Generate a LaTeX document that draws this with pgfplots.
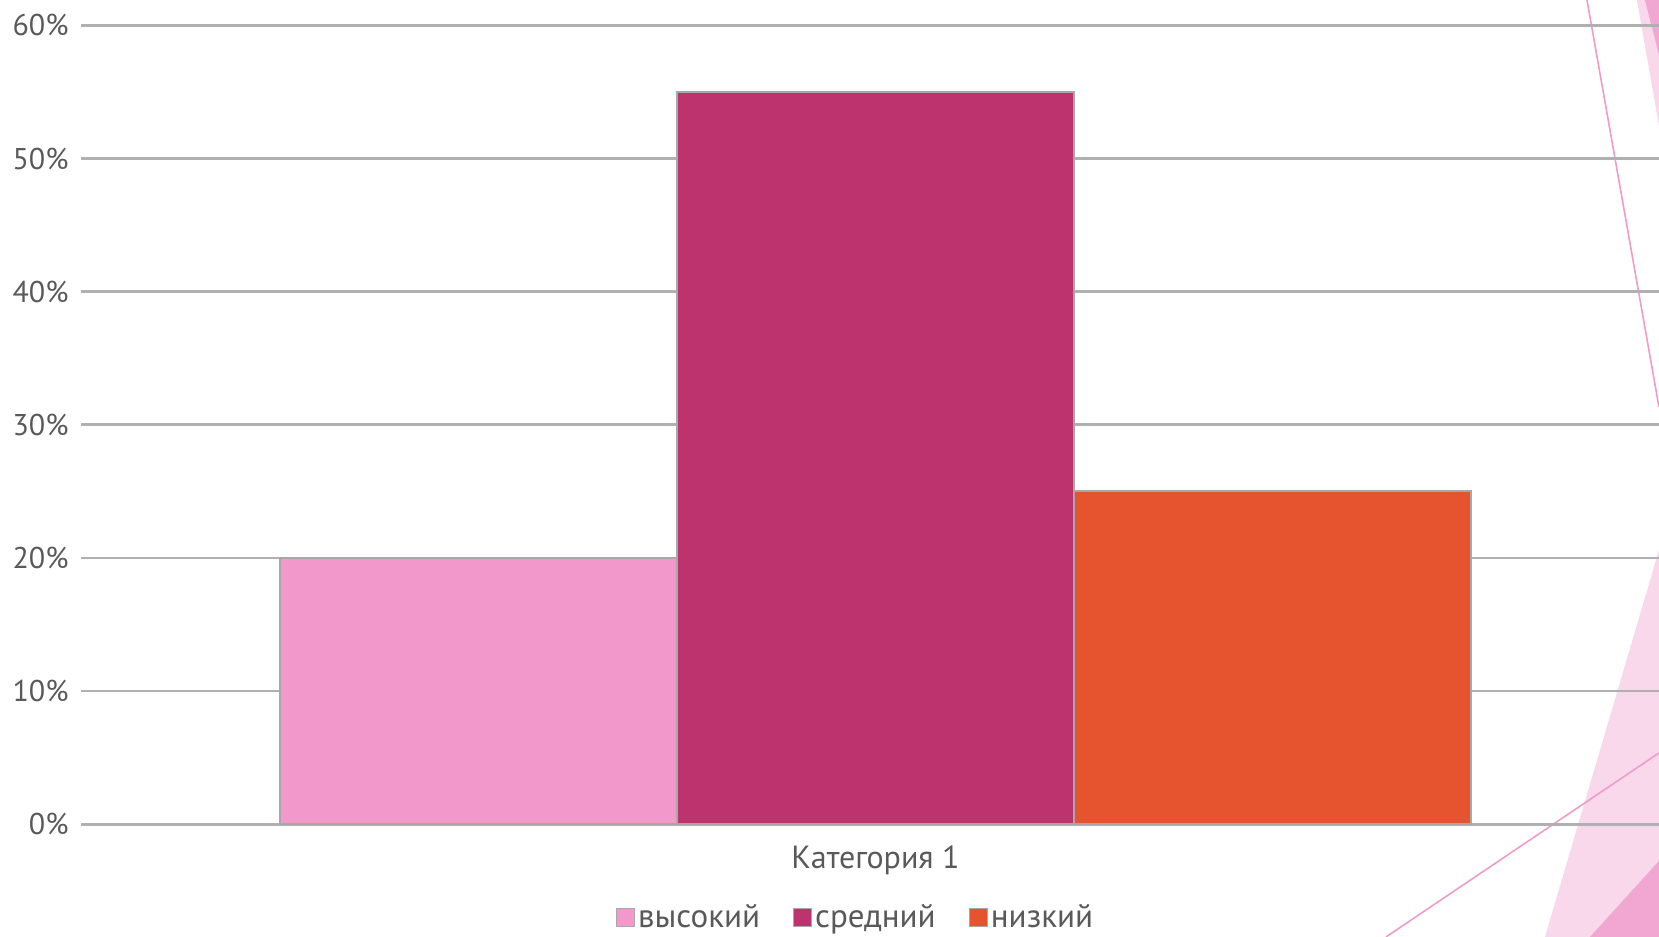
\documentclass[border=0pt]{standalone}
\usepackage{pgfplots}
\pgfplotsset{compat=1.18}
\usepackage{fontspec}
\setmainfont{PT Sans}
\definecolor{cpink}{HTML}{F398CB}
\definecolor{cmag}{HTML}{BD336E}
\definecolor{corange}{HTML}{E5542F}
\definecolor{ctext}{HTML}{595959}
\definecolor{cgrid}{HTML}{B0B0B0}
\definecolor{cbord}{HTML}{A8A8A8}
\definecolor{dlight}{HTML}{F8D8EA}
\definecolor{ddark}{HTML}{F2A6D2}
\definecolor{dline}{HTML}{F29AC9}
\begin{document}
\begin{tikzpicture}
\path[use as bounding box, clip] (-40.75bp,-56.4bp) rectangle (788.75bp,412.1bp);
% background slide decoration
\begin{scope}[shift={(-40.75bp,412.1bp)},x=0.5bp,y=-0.5bp]
\fill[dlight] (1637,0) -- (1659,0) -- (1659,126) -- cycle;
\fill[ddark] (1645,0) -- (1659,0) -- (1659,55) -- cycle;
\fill[dlight] (1659,550) -- (1545,937) -- (1659,937) -- cycle;
\fill[ddark] (1659,861) -- (1590,937) -- (1659,937) -- cycle;
\draw[dline, line width=0.8bp] (1587,0) -- (1659,407);
\draw[dline, line width=0.8bp] (1386,937) -- (1659,753);
\end{scope}
\begin{axis}[
  at={(0,0)}, anchor=south west,
  scale only axis,
  width=788.75bp, height=399.4bp,
  xmin=81.5, xmax=1659,
  ymin=0, ymax=60,
  axis line style={draw=none},
  ytick={0,10,...,60},
  ymajorgrids,
  grid style={cgrid, line width=1.4bp},
  major tick length=0pt,
  xtick={875.5},
  xticklabels={Категория 1},
  yticklabel={\pgfmathprintnumber{\tick}\%},
  /pgf/number format/assume math mode=true,
  ticklabel style={font=\fontsize{15bp}{18bp}\selectfont, text=ctext},
  yticklabel style={xshift=-3bp},
  xticklabel style={yshift=-7bp, font=\fontsize{16bp}{19bp}\selectfont},
  ybar, bar shift=0pt, bar width=397,
  legend columns=3,
  legend style={at={(0.491,-0.117)}, anchor=center, draw=none, fill=none,
     font=\fontsize{16.5bp}{19bp}\selectfont, text=ctext,
     /tikz/every even column/.append style={column sep=15bp},
     inner sep=0pt, nodes={inner sep=1.5bp}},
]
\addplot[fill=cpink, draw=cbord, line width=0.9bp, forget plot] coordinates {(478.5,20)};
\addplot[fill=cmag, draw=cbord, line width=0.9bp, forget plot] coordinates {(875.5,55)};
\addplot[fill=corange, draw=cbord, line width=0.9bp, forget plot] coordinates {(1272.5,25)};
\addlegendimage{legend image code/.code={\draw[fill=cpink,draw=cbord,line width=0.6bp] (0bp,-4.5bp) rectangle (9bp,4.5bp);}}
\addlegendentry{высокий}
\addlegendimage{legend image code/.code={\draw[fill=cmag,draw=cbord,line width=0.6bp] (0bp,-4.5bp) rectangle (9bp,4.5bp);}}
\addlegendentry{средний}
\addlegendimage{legend image code/.code={\draw[fill=corange,draw=cbord,line width=0.6bp] (0bp,-4.5bp) rectangle (9bp,4.5bp);}}
\addlegendentry{низкий}
\end{axis}
\end{tikzpicture}
\end{document}
